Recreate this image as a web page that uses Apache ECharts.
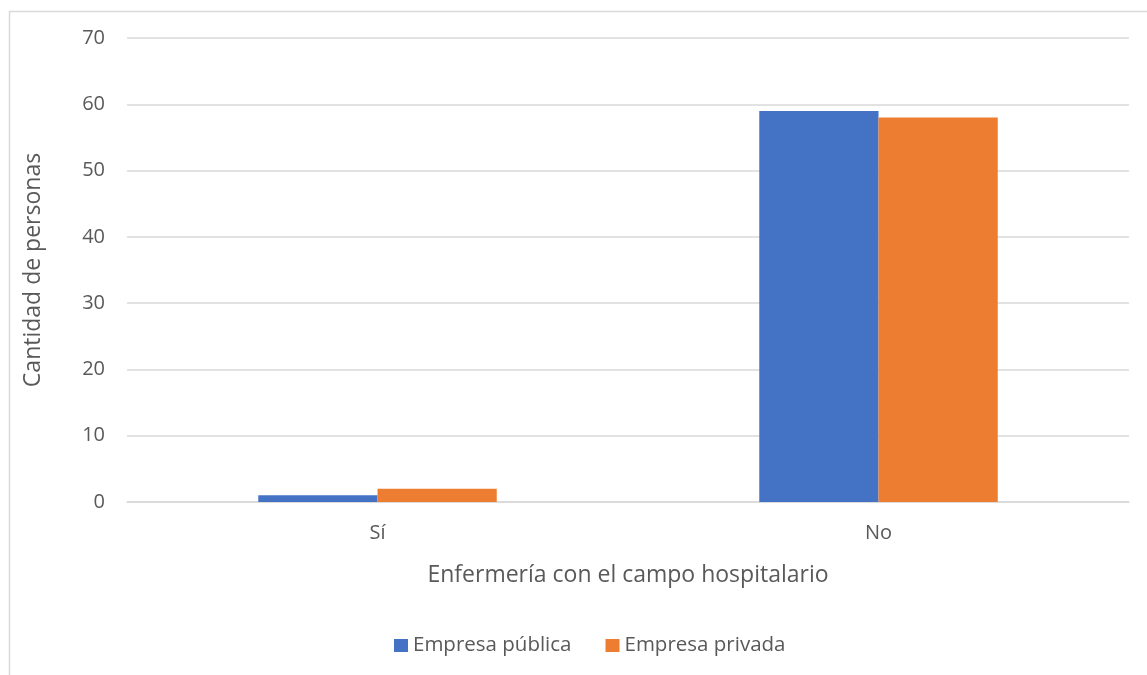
<!DOCTYPE html>
<html>
<head>
<meta charset="utf-8">
<script src="https://cdn.jsdelivr.net/npm/echarts@6/dist/echarts.min.js"></script>
<style>
html,body{margin:0;padding:0;background:#fff;}
#c{width:1147px;height:675px;}
</style>
</head>
<body>
<div id="c"></div>
<script>
const categories = ['Sí', 'No'];
const publica = [1, 59];
const privada = [2, 58];
const yTicks = { min: 0, max: 70, interval: 10 };

const chart = echarts.init(document.getElementById('c'), null, { renderer: 'canvas' });
const font = '"Open Sans", "Noto Sans", sans-serif';
chart.setOption({
  animation: false,
  backgroundColor: '#fff',
  textStyle: { fontFamily: font },
  graphic: [{
    type: 'rect', left: 7, top: 9, z: -1,
    shape: { x: 0, y: 0, width: 1200, height: 700 },
    style: { fill: 'none', stroke: '#d9d9d9', lineWidth: 1.5 }
  }],
  grid: { left: 127, right: 18, top: 38, bottom: 173, containLabel: false },
  legend: {
    top: 630, left: 389,
    itemWidth: 14, itemHeight: 13, itemGap: 34, itemTextGap: 6,
    icon: 'rect',
    textStyle: { color: '#595959', fontSize: 20.5, fontFamily: font },
    data: ['Empresa pública', 'Empresa privada']
  },
  xAxis: {
    type: 'category', data: categories,
    name: 'Enfermería con el campo hospitalario', nameLocation: 'middle', nameGap: 62,
    nameTextStyle: { color: '#595959', fontSize: 23, fontFamily: font },
    axisLine: { lineStyle: { color: '#d9d9d9', width: 1.5 } },
    axisTick: { show: false },
    axisLabel: { color: '#595959', fontSize: 20, margin: 21, fontFamily: font }
  },
  yAxis: {
    type: 'value', min: yTicks.min, max: yTicks.max, interval: yTicks.interval,
    name: 'Cantidad de personas', nameLocation: 'middle', nameGap: 82,
    nameTextStyle: { color: '#595959', fontSize: 23, fontFamily: font },
    axisLine: { show: false }, axisTick: { show: false },
    axisLabel: { color: '#595959', fontSize: 20, margin: 22, fontFamily: font },
    splitLine: { lineStyle: { color: '#d9d9d9', width: 1.5 } }
  },
  series: [
    { name: 'Empresa pública', type: 'bar', data: publica, barWidth: '23.8%', barGap: '0%',
      itemStyle: { color: '#4472C4' } },
    { name: 'Empresa privada', type: 'bar', data: privada, barWidth: '23.8%', barGap: '0%',
      itemStyle: { color: '#ED7D31' } }
  ]
});
</script>
</body>
</html>
